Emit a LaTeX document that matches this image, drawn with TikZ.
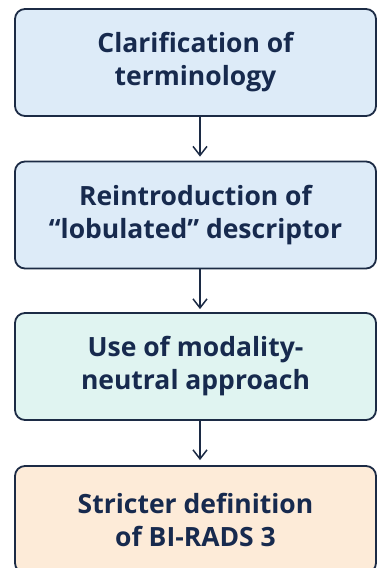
\documentclass[tikz,border=0pt]{standalone}
\usepackage{fontspec}
\setmainfont{Open Sans}
\usetikzlibrary{arrows.meta}
\definecolor{edgec}{HTML}{1C2B45}
\definecolor{textc}{HTML}{172A4E}
\definecolor{fillblue}{HTML}{DDEBF8}
\definecolor{fillmint}{HTML}{E0F4F1}
\definecolor{fillpeach}{HTML}{FDEBD8}
\tikzset{
  stepbox/.style={draw=edgec, line width=1.8pt, rounded corners=10pt,
    minimum width=361pt, minimum height=107pt, inner sep=0pt,
    align=center, text=textc,
    font=\fontsize{26.5}{33}\selectfont\bfseries},
  arr/.style={draw=edgec, line width=1.5pt,
    -{Straight Barb[length=9pt,width=14pt,line width=1.5pt]}}
}
\begin{document}
\begin{tikzpicture}[x=1pt,y=1pt]
\useasboundingbox (0,0) rectangle (377,-568);
\clip (0,0) rectangle (377,-568);
\fill[white] (0,0) rectangle (377,-568);
\node[stepbox, fill=fillblue] (b1) at (195.5,-62.5) {Clarification of\\terminology};
\node[stepbox, fill=fillblue] (b2) at (195.5,-215) {Reintroduction of\\“lobulated” descriptor};
\node[stepbox, fill=fillmint] (b3) at (195.5,-366.5) {Use of modality-\\neutral approach};
\node[stepbox, fill=fillpeach] (b4) at (195.5,-519.5) {Stricter definition\\of BI-RADS 3};
\coordinate (ax) at (200,0);
\draw[arr] (b1.south -| ax) -- ([yshift=4pt]b2.north -| ax);
\draw[arr] (b2.south -| ax) -- ([yshift=3pt]b3.north -| ax);
\draw[arr] (b3.south -| ax) -- ([yshift=5pt]b4.north -| ax);
\end{tikzpicture}
\end{document}
